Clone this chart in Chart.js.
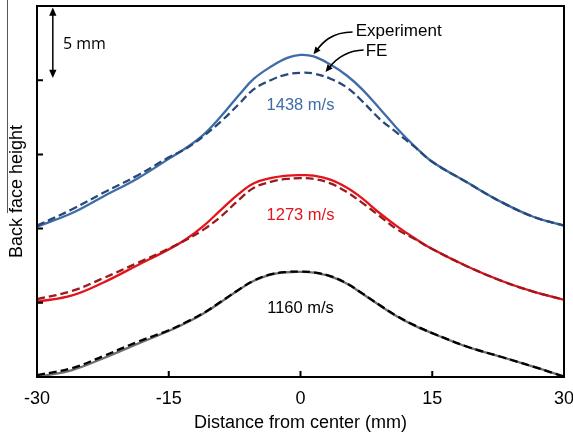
<!DOCTYPE html>
<html>
<head>
<meta charset="utf-8">
<script src="https://cdn.jsdelivr.net/npm/chart.js@4.4.1/dist/chart.umd.min.js"></script>
<style>
  html, body { margin: 0; padding: 0; background: #fff; }
  #wrap { width: 573px; height: 440px; }
</style>
</head>
<body>
<div id="wrap"><canvas id="chart_profile" width="573" height="440"></canvas></div>
<script>
// distance from plate centre (mm) shared by every profile
const distance = [-30, -26, -22.5, -18.5, -15, -13, -11, -9, -7, -5.3, -3.4, -1.5, 0,
    1.5, 3.4, 5.3, 7, 9, 11, 13, 15, 19, 23, 26.5, 30];

// back face height (mm), profiles stacked with an offset
const exp1438 = [10.13, 11.05, 12.15, 13.4, 14.7, 15.45, 16.35, 17.6, 19.0, 20.1, 20.9, 21.5, 21.7,
    21.6, 21.05, 20.3, 19.4, 18.1, 16.75, 15.55, 14.5, 13.1, 11.75, 10.8, 10.2];
const fe1438 = [10.2, 11.3, 12.4, 13.6, 14.8, 15.4, 16.25, 17.25, 18.4, 19.4, 20.0, 20.4, 20.5,
    20.45, 20.1, 19.5, 18.6, 17.4, 16.45, 15.5, 14.5, 13.1, 11.75, 10.8, 10.2];
const exp1273 = [5.07, 5.5, 6.35, 7.55, 8.6, 9.3, 10.2, 11.3, 12.35, 13.05, 13.4, 13.57, 13.6,
    13.57, 13.3, 12.75, 12.05, 11.05, 10.15, 9.35, 8.62, 7.45, 6.45, 5.75, 5.2];
const fe1273 = [5.24, 5.8, 6.65, 7.7, 8.65, 9.25, 9.95, 10.85, 11.95, 12.75, 13.15, 13.35, 13.4,
    13.35, 13.05, 12.45, 11.75, 10.85, 9.95, 9.3, 8.62, 7.45, 6.45, 5.75, 5.2];
const exp1160 = [0, 0.47, 1.25, 2.25, 3.1, 3.65, 4.3, 5.07, 5.88, 6.48, 6.9, 7.06, 7.08,
    7.03, 6.78, 6.28, 5.63, 4.83, 4.08, 3.46, 2.95, 2.03, 1.33, 0.7, 0.02];
const fe1160 = [0.12, 0.6, 1.4, 2.38, 3.15, 3.7, 4.33, 5.1, 5.9, 6.5, 6.92, 7.08, 7.1,
    7.05, 6.8, 6.3, 5.65, 4.85, 4.1, 3.48, 2.96, 2.04, 1.33, 0.7, 0.02];

const speedLabels = ["1438 m/s", "1273 m/s", "1160 m/s"];
const xTickValues = [-30, -15, 0, 15, 30];
const yTickValues = [0, 5, 10, 15, 20, 25];

const FONT = "'Liberation Sans', Arial, sans-serif";

function toPoints(values) {
    return values.map((v, i) => ({ x: distance[i], y: v }));
}

function profile(label, values, color, dashed) {
    return {
        label: label,
        data: toPoints(values),
        borderColor: color,
        borderWidth: 2.3,
        borderDash: dashed ? [8, 4] : [],
        pointRadius: 0,
        fill: false,
        tension: 0.4,
        order: dashed ? 0 : 1,
    };
}

function arrowHead(ctx, tipX, tipY, fromX, fromY, size) {
    const ang = Math.atan2(tipY - fromY, tipX - fromX);
    ctx.beginPath();
    ctx.moveTo(tipX, tipY);
    ctx.lineTo(tipX - size * Math.cos(ang - 0.42), tipY - size * Math.sin(ang - 0.42));
    ctx.lineTo(tipX - size * Math.cos(ang + 0.42), tipY - size * Math.sin(ang + 0.42));
    ctx.closePath();
    ctx.fill();
}

// frame, inward ticks, scale bar and the text callouts
const decorations = {
    id: "decorations",
    afterDraw(chart) {
        const { ctx, chartArea: area, scales: { x, y } } = chart;
        const px = (xv, yv) => [x.getPixelForValue(xv), y.getPixelForValue(yv)];

        ctx.save();

        // thin edge line at the far left
        ctx.strokeStyle = "#555";
        ctx.lineWidth = 1;
        ctx.beginPath();
        ctx.moveTo(7.5, 0);
        ctx.lineTo(7.5, 213);
        ctx.stroke();

        ctx.strokeStyle = "#000";
        ctx.lineWidth = 2;
        ctx.strokeRect(area.left, area.top, area.right - area.left, area.bottom - area.top);

        ctx.beginPath();
        xTickValues.slice(1, -1).forEach((v) => {
            const xp = x.getPixelForValue(v);
            ctx.moveTo(xp, area.bottom);
            ctx.lineTo(xp, area.bottom - 6);
        });
        yTickValues.slice(1, -1).forEach((v) => {
            const yp = y.getPixelForValue(v);
            ctx.moveTo(area.left, yp);
            ctx.lineTo(area.left + 6, yp);
        });
        ctx.stroke();

        // 5 mm scale bar
        ctx.fillStyle = "#000";
        ctx.lineWidth = 1.5;
        const [bx, bTop] = px(-28.2, 24.9);
        const bBot = y.getPixelForValue(20.15);
        ctx.beginPath();
        ctx.moveTo(bx, bTop + 4);
        ctx.lineTo(bx, bBot - 4);
        ctx.stroke();
        arrowHead(ctx, bx, bTop, bx, bTop + 10, 9);
        arrowHead(ctx, bx, bBot, bx, bBot - 10, 9);
        ctx.font = "16px 'Open Sans', sans-serif";
        ctx.textBaseline = "middle";
        ctx.textAlign = "left";
        let [tx, ty] = px(-27.05, 22.4);
        ctx.fillText("5 mm", tx, ty);

        // curved pointers to the two 1438 m/s curves
        const pointers = [
            { text: "Experiment", at: [6.28, 23.32], path: [[5.93, 23.25], [3.42, 23.25], [2.4, 22.44], [1.48, 21.75]] },
            { text: "FE", at: [7.42, 21.97], path: [[7.19, 22.03], [4.91, 22.0], [3.77, 21.23], [2.85, 20.55]] },
        ];
        ctx.font = "17px " + FONT;
        ctx.lineWidth = 1.6;
        pointers.forEach((p) => {
            const pts = p.path.map((q) => px(q[0], q[1]));
            const tip = pts[3];
            const back = pts[2];
            const ang = Math.atan2(tip[1] - back[1], tip[0] - back[0]);
            ctx.beginPath();
            ctx.moveTo(pts[0][0], pts[0][1]);
            ctx.bezierCurveTo(pts[1][0], pts[1][1], pts[2][0], pts[2][1],
                tip[0] - 5 * Math.cos(ang), tip[1] - 5 * Math.sin(ang));
            ctx.stroke();
            arrowHead(ctx, tip[0], tip[1], back[0], back[1], 8);
            [tx, ty] = px(p.at[0], p.at[1]);
            ctx.fillText(p.text, tx, ty);
        });

        // impact speed labels
        const speedPos = [[0, 18.3, "#3f6ca6"], [0, 10.9, "#e3141b"], [0, 4.6, "#000"]];
        ctx.font = "16.5px " + FONT;
        ctx.textAlign = "center";
        speedLabels.forEach((s, i) => {
            const [sx, sy] = px(speedPos[i][0], speedPos[i][1]);
            ctx.fillStyle = speedPos[i][2];
            ctx.fillText(s, sx, sy);
        });

        ctx.restore();
    },
};

new Chart(document.getElementById("chart_profile"), {
    type: "line",
    data: {
        datasets: [
            profile("Experiment 1438 m/s", exp1438, "#3f6ca6", false),
            profile("FE 1438 m/s", fe1438, "#27497a", true),
            profile("Experiment 1273 m/s", exp1273, "#e3141b", false),
            profile("FE 1273 m/s", fe1273, "#9a1a1f", true),
            profile("Experiment 1160 m/s", exp1160, "#6e6e6e", false),
            profile("FE 1160 m/s", fe1160, "#000000", true),
        ],
    },
    options: {
        responsive: false,
        animation: false,
        devicePixelRatio: 1,
        layout: { padding: { top: 6, right: 9, left: 0, bottom: 0 } },
        plugins: {
            legend: { display: false },
            tooltip: { enabled: false },
        },
        scales: {
            x: {
                type: "linear",
                min: -30,
                max: 30,
                afterBuildTicks: (scale) => {
                    scale.ticks = xTickValues.map((v) => ({ value: v }));
                },
                afterFit: (scale) => {
                    scale.height = 63;
                    scale.paddingLeft = 0;
                    scale.paddingRight = 0;
                },
                grid: { display: false, drawTicks: false },
                border: { display: false },
                ticks: {
                    padding: 11,
                    maxRotation: 0,
                    autoSkip: false,
                    color: "#000",
                    font: { family: FONT, size: 18 },
                },
                title: {
                    display: true,
                    text: "Distance from center (mm)",
                    color: "#000",
                    font: { family: FONT, size: 18 },
                    padding: { top: 0, bottom: 6 },
                },
            },
            y: {
                type: "linear",
                min: 0,
                max: 25,
                afterBuildTicks: (scale) => {
                    scale.ticks = yTickValues.map((v) => ({ value: v }));
                },
                afterFit: (scale) => {
                    scale.width = 37;
                    scale.paddingTop = 0;
                    scale.paddingBottom = 0;
                },
                grid: { display: false, drawTicks: false },
                border: { display: false },
                ticks: { display: false },
                title: {
                    display: true,
                    text: "Back face height",
                    color: "#000",
                    font: { family: FONT, size: 18 },
                    padding: { top: 6, bottom: 0 },
                },
            },
        },
    },
    plugins: [decorations],
});
</script>
</body>
</html>
